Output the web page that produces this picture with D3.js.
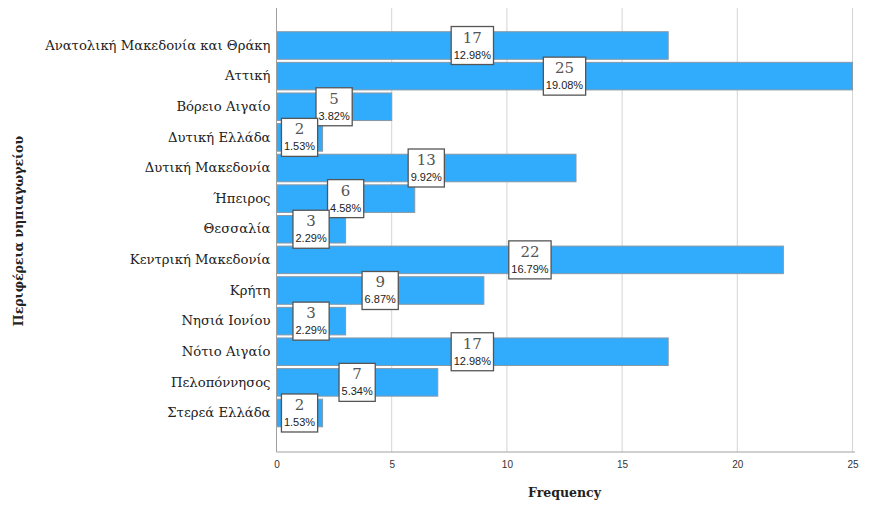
<!DOCTYPE html>
<html><head><meta charset="utf-8">
<script src="https://cdn.jsdelivr.net/npm/d3@7"></script>
<style>body{margin:0;background:#fff}svg{display:block}</style>
</head><body>
<svg id="chart" width="870" height="506"></svg>
<script>
const categories = ["Ανατολική Μακεδονία και Θράκη","Αττική","Βόρειο Αιγαίο","Δυτική Ελλάδα","Δυτική Μακεδονία","Ήπειρος","Θεσσαλία","Κεντρική Μακεδονία","Κρήτη","Νησιά Ιονίου","Νότιο Αιγαίο","Πελοπόννησος","Στερεά Ελλάδα"];
const counts = [17,25,5,2,13,6,3,22,9,3,17,7,2];
const percents = ["12.98%","19.08%","3.82%","1.53%","9.92%","4.58%","2.29%","16.79%","6.87%","2.29%","12.98%","5.34%","1.53%"];
const xTicks = [0,5,10,15,20,25];
const xTitle = "Frequency";
const yTitle = "Περιφέρεια νηπιαγωγείου";

const SERIF = "'DejaVu Serif', serif";
const SANS = "'Liberation Sans', Arial, sans-serif";
const svg = d3.select("#chart");
const x = d3.scaleLinear().domain([0,25]).range([276.5,852.5]);
const y = d3.scaleBand().domain(categories).range([30.2,428.3]).paddingInner(0.1).paddingOuter(0.05);
const plotTop = 8, plotBottom = 452;

// gridlines
svg.append("g").selectAll("line").data(xTicks.slice(1)).join("line")
  .attr("x1",d=>x(d)).attr("x2",d=>x(d)).attr("y1",plotTop).attr("y2",plotBottom)
  .attr("stroke","#d4d4d4").attr("stroke-width",1);

// bars
svg.append("g").selectAll("rect").data(categories).join("rect")
  .attr("x",x(0)).attr("y",d=>y(d)).attr("height",y.bandwidth())
  .attr("width",(d,i)=>x(counts[i])-x(0))
  .attr("fill","#31acfd").attr("stroke","#8797a6").attr("stroke-width",1);

// axes lines
svg.append("line").attr("x1",x(0)).attr("x2",x(0)).attr("y1",plotTop).attr("y2",plotBottom).attr("stroke","#a0a0a0");
svg.append("line").attr("x1",x(0)).attr("x2",855).attr("y1",plotBottom).attr("y2",plotBottom).attr("stroke","#a0a0a0");

// x tick labels
const xAxis = d3.axisBottom(x).tickValues(xTicks).tickSize(0).tickPadding(9);
const gx = svg.append("g").attr("transform",`translate(0,${plotBottom})`).call(xAxis);
gx.select(".domain").remove();
gx.selectAll("text").attr("font-family",SANS).attr("font-size",10).attr("fill","#333");

// y category labels
const yAxis = d3.axisLeft(y).tickSize(0).tickPadding(6);
const gy = svg.append("g").attr("transform",`translate(${x(0)},0)`).call(yAxis);
gy.select(".domain").remove();
gy.selectAll("text").attr("font-family",SERIF).attr("font-size",13.2).attr("fill","#222");

// value boxes
const boxes = svg.append("g").selectAll("g").data(categories).join("g")
  .attr("transform",(d,i)=>`translate(${x(counts[i]/2)},${y(d)+y.bandwidth()/2})`);
boxes.each(function(d,i){
  const g = d3.select(this);
  const rect = g.append("rect");
  const t1 = g.append("text").text(counts[i]).attr("text-anchor","middle").attr("y",-3)
    .attr("font-family",SERIF).attr("font-size",15).attr("fill","#555");
  const t2 = g.append("text").text(percents[i]).attr("text-anchor","middle").attr("y",13)
    .attr("font-family",SANS).attr("font-size",11).attr("fill","#222");
  const w = Math.max(t1.node().getComputedTextLength(), t2.node().getComputedTextLength()) + 5;
  rect.attr("x",-w/2).attr("y",-19).attr("width",w).attr("height",38)
    .attr("fill","#fff").attr("stroke","#555").attr("stroke-width",1.3);
});

// titles
svg.append("text").attr("x",x(12.5)).attr("y",497).attr("text-anchor","middle")
  .attr("font-family",SERIF).attr("font-weight","bold").attr("font-size",12.5).attr("fill","#222").text(xTitle);
svg.append("text").attr("transform","translate(23,231) rotate(-90)").attr("text-anchor","middle")
  .attr("font-family",SERIF).attr("font-weight","bold").attr("font-size",12.5).attr("fill","#222").text(yTitle);
</script>
</body></html>
